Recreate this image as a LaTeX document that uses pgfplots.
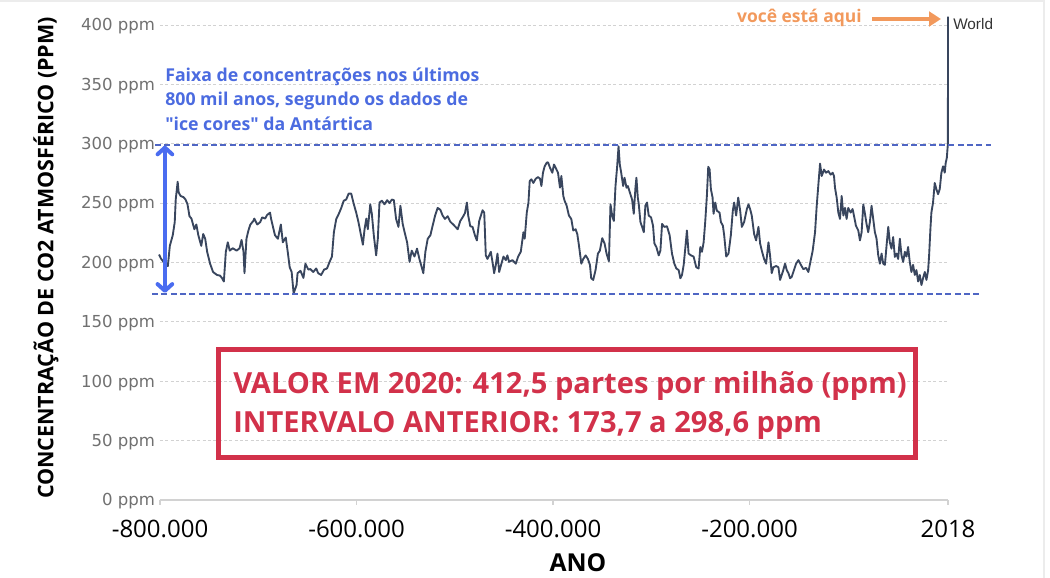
\documentclass[border=0pt]{standalone}
\usepackage{pgfplots}
\pgfplotsset{compat=1.18}
\usepackage{fontspec}
\setmainfont{Open Sans}[Ligatures=TeXOff]
\newfontfamily\arialf{Liberation Sans}
\newfontfamily\tickf{DejaVu Sans}
\usetikzlibrary{arrows.meta}
\definecolor{linec}{HTML}{39465E}
\definecolor{gridc}{HTML}{D2D2D2}
\definecolor{bandblue}{HTML}{4F66C4}
\definecolor{arrowblue}{HTML}{4A6CF0}
\definecolor{textblue}{HTML}{4B6BE0}
\definecolor{boxred}{HTML}{D2314A}
\definecolor{orangec}{HTML}{F2995C}
\definecolor{tickgray}{HTML}{707070}

\begin{document}
\begin{tikzpicture}
\begin{axis}[
  scale only axis,
  width=591pt, height=365.16pt,
  xmin=-800, xmax=2.018, ymin=0, ymax=410,
  axis x line*=bottom, axis y line*=left,
  x axis line style={gridc, line width=1.1pt, -},
  y axis line style={draw=none},
  xtick={-800,-600,-400,-200,2.018},
  xticklabels={-800.000,-600.000,-400.000,-200.000,2018},
  ytick={0,50,100,150,200,250,300,350,400},
  yticklabels={0 ppm,50 ppm,100 ppm,150 ppm,200 ppm,250 ppm,300 ppm,350 ppm,400 ppm},
  tick align=outside,
  major tick length=3.5pt,
  xtick style={gridc, line width=1.1pt},
  ytick style={draw=none},
  ymajorgrids=true,
  grid style={gridc, line width=0.7pt, dash pattern=on 2.2pt off 1.8pt},
  xticklabel style={font=\fontsize{18}{20}\selectfont, text=black, anchor=base, inner sep=0pt, yshift=-24.5pt},
  yticklabel style={font=\tickf\fontsize{12.4}{15}\selectfont, text=tickgray, anchor=base east, inner sep=0pt, yshift=-4.4pt},
  clip=false,
]
\addplot[linec, line width=1.4pt, line join=round, mark=none] coordinates {
(-801,206.7) (-799,203.3) (-795,199) (-792,197) (-790,214) (-787,223) (-785,234) (-784,253) (-782,268) (-781,259)
(-779,256) (-776,255) (-774,253) (-772,249) (-770,239) (-768,237) (-765,228) (-763,232) (-761,223) (-758,214)
(-756,224) (-754,220) (-752,209) (-749,199) (-746,192) (-742,189.5) (-739,189) (-737,187) (-735,184) (-733,209)
(-731,217) (-729,210) (-726,212) (-722,210) (-719,212) (-717,219) (-715,209) (-714,191) (-712,220) (-710,227)
(-708,232) (-705,235) (-704,237) (-701,232) (-698,234) (-696,238) (-693,237) (-691,240) (-688,242) (-687,237)
(-685,230) (-683,223) (-680,220) (-677,232) (-675,217) (-672,221) (-670,209) (-668,196) (-666,192) (-664,174)
(-661,181) (-660,191) (-657,193) (-654,187) (-652,199) (-649,194) (-647,194.5) (-644,192) (-641,195)
(-639,191) (-636,189.5) (-633,194) (-630,195) (-627.4,200.5) (-625,205) (-623,225.5) (-620.6,236.7) (-618,241)
(-615.5,246) (-613,252) (-610.5,253) (-608,258) (-605.4,258) (-602.7,249) (-600.3,242) (-598,234) (-596,225.5)
(-593.5,215) (-591.8,228) (-590,237) (-588.5,228) (-586,249) (-584.4,241) (-582.4,223) (-580,206) (-578.3,220)
(-576.6,250.5) (-574.2,252) (-571.5,249) (-568.8,252.5) (-566.5,250) (-564,253) (-562,252.5) (-559.7,236.7)
(-557.3,230) (-555.3,247.8) (-553,232.5) (-550.6,224) (-548.5,217) (-546,200.5) (-543.8,210) (-541,205)
(-538.4,211.7) (-536,203) (-533.6,196) (-532,191) (-529.9,209) (-527.5,220) (-524.8,223) (-522.5,231)
(-520,239.5) (-517.4,246) (-514.7,244.4) (-512.3,239.5) (-510,236.7) (-507.2,239) (-504.6,234.4) (-502.2,232.5)
(-499.8,230.5) (-497,228) (-494.4,235) (-492,238) (-489.6,241.7) (-487.6,250.5) (-486.3,239.5) (-484.2,230.5)
(-481.9,230) (-479.5,223) (-477.5,218.6)
(-475.1,235) (-473.4,239.5) (-471.7,244) (-470,242) (-468.4,206) (-466.7,203) (-465,206) (-463.3,209)
(-461.6,200.5) (-459.9,191) (-458.2,198) (-456.5,207.5) (-454.8,192) (-452.5,199) (-450.4,205) (-448,202)
(-446.4,206) (-444.7,200.5) (-441.3,202) (-437.9,199) (-435.5,205) (-432.8,209) (-430.1,225.5) (-428.8,220)
(-426.7,242) (-425,250.5) (-423.7,268.6) (-422,270) (-420,267) (-417.6,270.5) (-415.2,272) (-413.2,270.5)
(-411.8,264.4) (-410.2,275.6) (-408.5,281) (-406.4,284) (-405.1,284.4) (-403,279.7) (-400.7,275.6) (-399,282.5)
(-397.3,279.7) (-394.9,275.6) (-392.9,263) (-391.5,272.8) (-389.5,256) (-388.2,252) (-386.1,247.8) (-383.8,239.5)
(-381.4,236.7) (-379.4,227) (-377,228) (-375.3,224) (-373.6,214.4) (-371.2,199) (-369.2,203) (-366.8,206)
(-364.5,203) (-362.4,198) (-361.1,186.7) (-359.1,185.3) (-356.7,193.6) (-354.3,207.5) (-352.3,210) (-349.9,220.5)
(-347.5,216) (-345.5,207.5) (-343.1,201) (-341.5,249) (-339.8,239.5) (-338.1,235) (-336.4,264.4) (-334.7,281)
(-333.3,297.8) (-332,282.5) (-330.6,275.6) (-328.6,264.4) (-327.2,271.4) (-325.2,263) (-323.8,264.4) (-321.8,259)
(-319.5,253) (-317.8,241) (-316.1,263)
(-315.1,271.4) (-313.7,254.7) (-312.7,249) (-311,234) (-309.3,230) (-307.6,225.5) (-306,247.8) (-304.3,250.5)
(-302.6,239.5) (-300.2,238) (-298.2,231) (-296.8,216) (-294.8,213) (-292.4,206) (-290.7,210) (-289,232.5)
(-286.7,230) (-284,230.5) (-281.3,223) (-278.9,207.5) (-276.5,199) (-274.5,195) (-272.1,193.6) (-270.4,186.7)
(-268.7,189.5) (-267,198) (-265.4,211.7) (-263.7,227) (-262,207.5) (-259.6,206) (-256.9,205) (-254.2,196)
(-251.8,195) (-250.1,213) (-248.4,209) (-246.7,217) (-245.1,234) (-243.4,256) (-242,280.6) (-240.6,278.3)
(-239.3,261.7) (-237.6,254.7) (-236.6,241) (-234.9,250.5) (-233.2,243.6) (-230.5,242) (-229.1,234) (-227.1,231)
(-225.8,223) (-223.7,205) (-221.4,207.5) (-219,223) (-217,243.6) (-215.6,250.5) (-213.6,239.5) (-211.5,254.7)
(-209.5,243.6) (-207.8,230) (-205.5,234) (-202.7,245) (-201,249) (-199.4,245) (-197.7,239.5) (-195.3,224)
(-193.3,218.6) (-190.9,230) (-189.2,216) (-187.5,210) (-185.2,203) (-183.1,199) (-180.7,217) (-179.1,206)
(-177.4,191) (-175.7,196) (-173,197) (-170.6,196) (-168.9,185.3) (-166.2,192) (-163.8,199) (-162.1,193.6)
(-160.4,191) (-158.7,186.7) (-157,188) (-155.4,192)
(-152.6,199) (-150.2,202) (-147.9,198.3) (-145.2,194.4) (-142.4,195.5) (-140.1,192) (-138.4,199) (-135.7,210)
(-133.3,225.5) (-131.6,247.8) (-129.9,265.8) (-128.2,283.3) (-126.5,272.8) (-124.2,278.3) (-122.1,275.6)
(-119.8,277) (-117.4,274) (-115.4,275.6) (-114,272.8) (-113,263) (-111.3,254.7) (-109.6,242) (-107.9,236.7)
(-106.2,256) (-104.5,239.5) (-102.8,246) (-101.2,236.7) (-99.5,246) (-97.1,242) (-95.1,245) (-93.7,239.5)
(-91.7,231) (-89.3,227) (-87.6,218.6) (-85.9,225.5) (-84.2,249) (-82.5,241) (-80.9,232.5) (-79.2,225.5)
(-77.5,234) (-75.8,247.8) (-74.1,236.7) (-72.4,225.5) (-70.7,220) (-69,206) (-67.3,199) (-65.6,207.5)
(-63.9,199) (-62.2,198) (-60.5,214.4) (-58.8,230) (-57.2,217) (-55.5,211.7) (-53.8,221.4) (-52.1,204.7)
(-50.4,207.5) (-48.7,203) (-47,220) (-45.3,206) (-43.6,200.5) (-41.9,209) (-40.2,205) (-38.6,213)
(-36.9,200.5) (-35.2,192) (-33.5,198) (-31.8,189.5) (-30.1,193.6) (-28.4,184) (-26.7,189.5) (-25,181)
(-23.3,187) (-21.6,192) (-19.9,185.3) (-18.2,193.6) (-17.2,206) (-15.9,228) (-14.9,242) (-13.2,250.5)
(-11.5,267) (-9.8,261.7) (-8.1,257.5) (-6.4,261.7) (-4.7,275.6) (-3,281) (-1.3,275.6) (-0.3,284)
(0.8,288) (1.9,300) (2.018,407)
};

% limites da faixa dos ice cores
\addplot[bandblue, line width=1.3pt, dash pattern=on 4.5pt off 2.5pt, forget plot] coordinates {(-805,299.2) (46,299.2)};
\addplot[bandblue, line width=1.3pt, dash pattern=on 4.5pt off 2.5pt, forget plot] coordinates {(-808,173.7) (35.5,173.7)};

\draw[arrowblue, line width=3pt, {Straight Barb[round,length=5pt,width=11pt]}-{Straight Barb[round,length=5pt,width=11pt]}]
  (axis cs:-795,174.5) -- (axis cs:-795,298.4);
\end{axis}

% anotacoes em coordenadas de pixel
\begin{scope}[shift={(-120pt,375pt)}, x=0.75pt, y=-0.75pt]
\draw[gray!15, line width=1.5pt] (0,1) -- (1044,1);
\draw[gray!15, line width=1.5pt] (1044,0) -- (1044,578);

\draw[boxred, line width=3.6pt] (218.3,349.7) rectangle (915.8,457.8);
\node[anchor=base west, inner sep=0pt, text=boxred, font=\bfseries\fontsize{21.8}{26}\selectfont]
  at (233,393.3) {VALOR EM 2020: 412,5 partes por milhão (ppm)};
\node[anchor=base west, inner sep=0pt, text=boxred, font=\bfseries\fontsize{21.8}{26}\selectfont]
  at (233,432.7) {INTERVALO ANTERIOR: 173,7 a 298,6 ppm};

\node[anchor=base west, inner sep=0pt, text=textblue, font=\bfseries\fontsize{13.3}{16}\selectfont]
  at (165,81.5) {Faixa de concentrações nos últimos};
\node[anchor=base west, inner sep=0pt, text=textblue, font=\bfseries\fontsize{13.3}{16}\selectfont]
  at (165,106) {800 mil anos, segundo os dados de};
\node[anchor=base west, inner sep=0pt, text=textblue, font=\bfseries\fontsize{13.3}{16}\selectfont]
  at (165,130.7) {"ice cores" da Antártica};

\node[anchor=base east, inner sep=0pt, text=orangec, font=\bfseries\fontsize{13.1}{15}\selectfont]
  at (862,22.7) {você está aqui};
\draw[orangec, line width=3pt, -{Triangle[length=9pt,width=11pt]}] (872,19) -- (941,19);

\node[anchor=base west, inner sep=0pt, text=black!80, font=\arialf\fontsize{11.5}{13}\selectfont]
  at (953,29.3) {World};

\node[rotate=90, anchor=base, inner sep=0pt, font=\bfseries\fontsize{16.1}{18}\selectfont]
  at (53.3,258) {CONCENTRAÇÃO DE CO2 ATMOSFÉRICO (PPM)};
\node[anchor=base, inner sep=0pt, font=\bfseries\fontsize{18.5}{22}\selectfont]
  at (578,571.7) {ANO};

\pgfresetboundingbox
\path[use as bounding box] (0,0) rectangle (1050,578);
\end{scope}
\end{tikzpicture}
\end{document}
